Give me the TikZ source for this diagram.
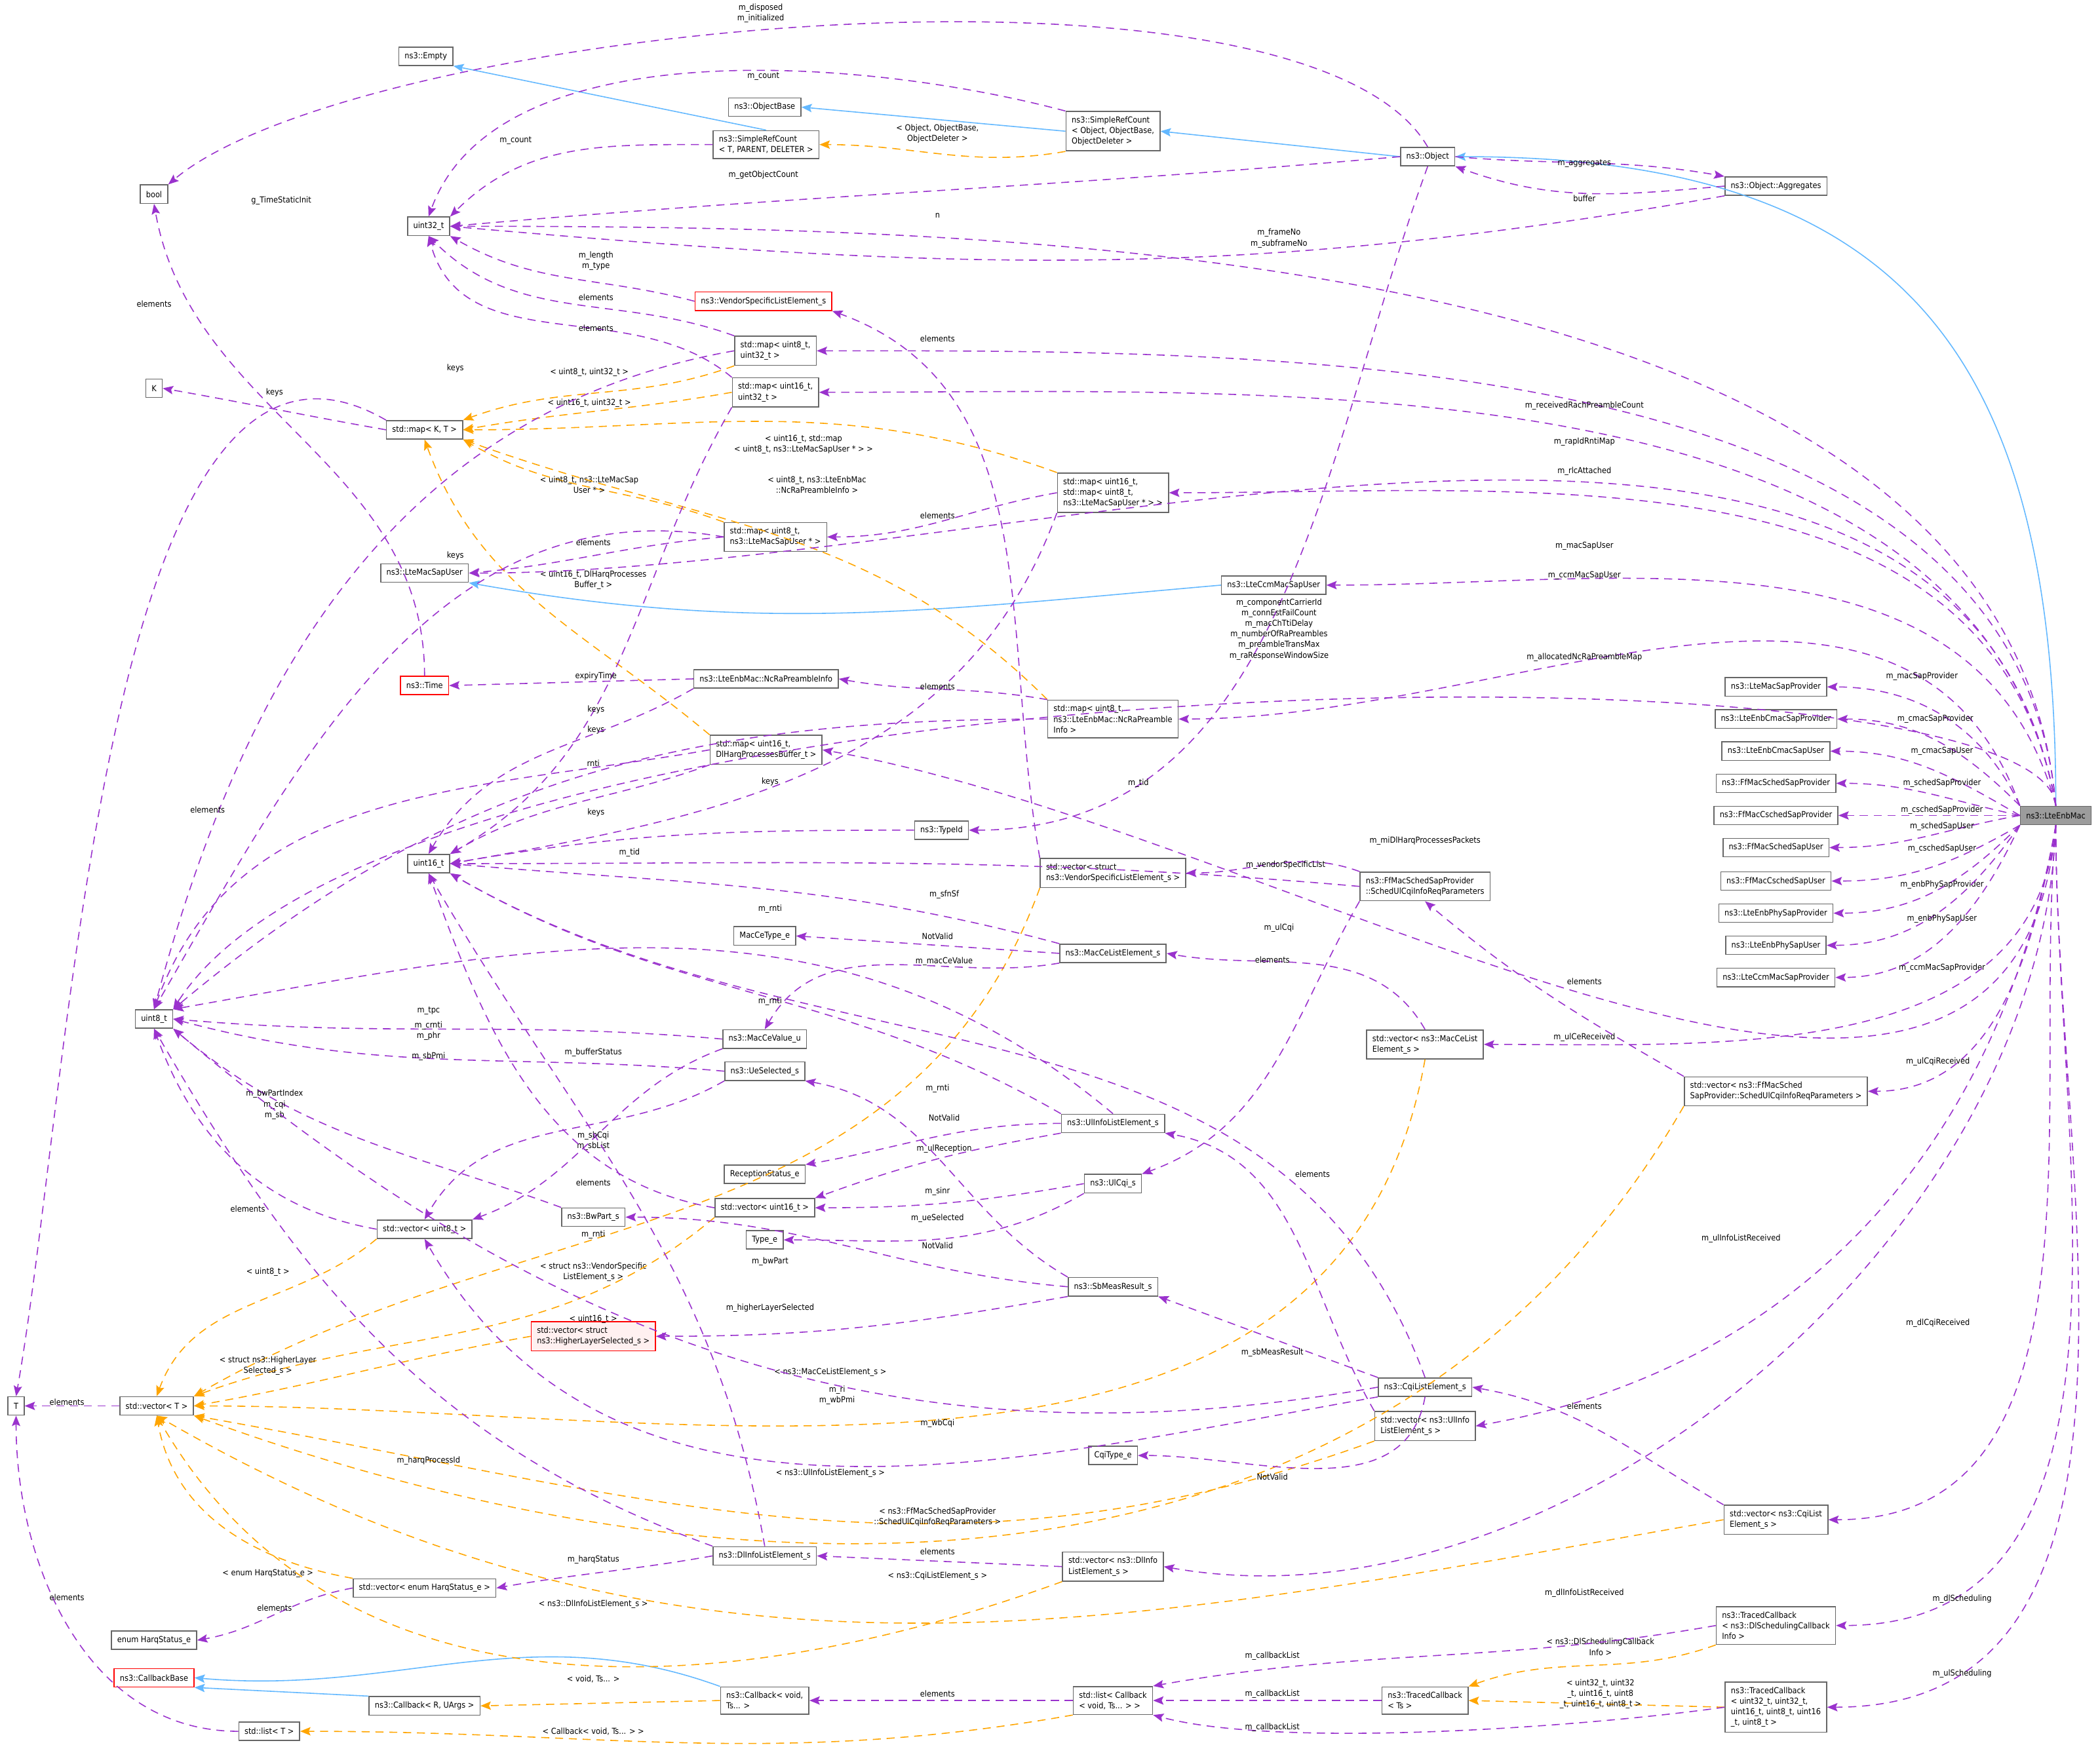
\documentclass[tikz,border=0pt]{standalone}
\usepackage{fontspec}
\setmainfont{DejaVu Sans Condensed}
\usepackage{tikz}
\usetikzlibrary{arrows.meta}
\definecolor{depc}{HTML}{9A32CD}
\definecolor{tplc}{HTML}{FFA500}
\definecolor{inhc}{HTML}{63B8FF}
\definecolor{boxc}{HTML}{666666}
\tikzstyle{cls} = [draw=boxc, fill=white, rectangle, line width=0.45pt,
    minimum height=8pt, inner xsep=2.5pt, inner ysep=2.2pt, align=left]
\tikzstyle{undoc} = [cls, draw=red]
\tikzstyle{lbl} = [inner sep=0.5pt, align=center, text=black]
\tikzstyle{dep} = [-{Stealth[length=4.5pt,width=3.6pt,inset=0.8pt]}, color=depc,
    line width=0.45pt, dash pattern=on 3.5pt off 2.5pt]
\tikzstyle{tpl} = [dep, color=tplc]
\tikzstyle{inh} = [-{Stealth[length=4.5pt,width=3.6pt,inset=0.8pt]}, color=inhc, line width=0.45pt]

\begin{document}
\begin{tikzpicture}[x=0.020434cm, y=-0.020434cm, font=\fontsize{3.6}{4.6}\selectfont]
    \useasboundingbox (0,0) rectangle (1568,1303);

    % top: object model
    \node [cls] (boolT) at (115,145) {bool};
    \node [cls] (empty) at (318,42) {ns3::Empty};
    \node [cls] (objbase) at (571,80) {ns3::ObjectBase};
    \node [cls] (srcObj) at (831,98) {ns3::SimpleRefCount\\< Object, ObjectBase,\\ ObjectDeleter >};
    \node [cls] (srcT) at (572,108) {ns3::SimpleRefCount\\< T, PARENT, DELETER >};
    \node [cls] (obj) at (1066,117) {ns3::Object};
    \node [cls] (aggr) at (1326,139) {ns3::Object::Aggregates};
    \node [cls] (u32) at (320,169) {uint32\_t};
    \node [undoc] (vsle) at (570,225) {ns3::VendorSpecificListElement\_s};
    \node [cls] (mapU8U32) at (579,262) {std::map< uint8\_t,\\ uint32\_t >};
    \node [cls] (mapU16U32) at (579,293) {std::map< uint16\_t,\\ uint32\_t >};
    \node [cls] (K) at (115,290) {K};
    \node [cls] (mapKT) at (317,321) {std::map< K, T >};
    \node [cls] (mapU16Map) at (831,368) {std::map< uint16\_t,\\ std::map< uint8\_t,\\ ns3::LteMacSapUser * > >};
    \node [cls] (mapU8Sap) at (579,401) {std::map< uint8\_t,\\ ns3::LteMacSapUser * >};
    \node [cls] (macSapUser) at (317,428) {ns3::LteMacSapUser};
    \node [cls] (ccmSapUser) at (951,437) {ns3::LteCcmMacSapUser};
    \node [undoc] (time) at (317,512) {ns3::Time};
    \node [cls] (ncra) at (572,507) {ns3::LteEnbMac::NcRaPreambleInfo};
    \node [cls] (mapNcra) at (831,537) {std::map< uint8\_t,\\ ns3::LteEnbMac::NcRaPreamble\\ Info >};
    \node [cls] (mapHarq) at (572,560) {std::map< uint16\_t,\\ DlHarqProcessesBuffer\_t >};
    \node [cls] (typeid) at (703,620) {ns3::TypeId};
    \node [cls] (u16) at (320,645) {uint16\_t};

    % middle: scheduler structures
    \node [cls] (vecVsle) at (831,652) {std::vector< struct\\ ns3::VendorSpecificListElement\_s >};
    \node [cls] (ulCqiReq) at (1064,662) {ns3::FfMacSchedSapProvider\\::SchedUlCqiInfoReqParameters};
    \node [cls] (maceType) at (571,699) {MacCeType\_e};
    \node [cls] (maceList) at (831,712) {ns3::MacCeListElement\_s};
    \node [cls] (u8) at (115,761) {uint8\_t};
    \node [cls] (maceVal) at (571,776) {ns3::MacCeValue\_u};
    \node [cls] (ueSel) at (571,800) {ns3::UeSelected\_s};
    \node [cls] (vecMace) at (1064,780) {std::vector< ns3::MacCeList\\ Element\_s >};
    \node [cls] (vecUlCqiReq) at (1326,815) {std::vector< ns3::FfMacSched\\ SapProvider::SchedUlCqiInfoReqParameters >};
    \node [cls] (ulInfo) at (831,839) {ns3::UlInfoListElement\_s};
    \node [cls] (rxStatus) at (571,877) {ReceptionStatus\_e};
    \node [cls] (ulCqi) at (831,884) {ns3::UlCqi\_s};
    \node [cls] (vecU16) at (571,902) {std::vector< uint16\_t >};
    \node [cls] (bwPart) at (443,909) {ns3::BwPart\_s};
    \node [cls] (vecU8) at (317,918) {std::vector< uint8\_t >};
    \node [cls] (typeE) at (571,926) {Type\_e};
    \node [cls] (sbMeas) at (831,961) {ns3::SbMeasResult\_s};
    \node [undoc, fill=red!6] (vecHls) at (443,998) {std::vector< struct\\ ns3::HigherLayerSelected\_s >};
    \node [cls] (T) at (12,1050) {T};
    \node [cls] (vecT) at (117,1050) {std::vector< T >};
    \node [cls] (cqiList) at (1064,1036) {ns3::CqiListElement\_s};
    \node [cls] (vecUlInfo) at (1064,1065) {std::vector< ns3::UlInfo\\ ListElement\_s >};
    \node [cls] (cqiType) at (831,1087) {CqiType\_e};
    \node [cls] (vecCqi) at (1326,1135) {std::vector< ns3::CqiList\\ Element\_s >};
    \node [cls] (dlInfo) at (571,1162) {ns3::DlInfoListElement\_s};
    \node [cls] (vecDlInfo) at (831,1170) {std::vector< ns3::DlInfo\\ ListElement\_s >};
    \node [cls] (vecHarq) at (317,1186) {std::vector< enum HarqStatus\_e >};
    \node [cls] (harqE) at (115,1225) {enum HarqStatus\_e};

    % bottom: callbacks
    \node [cls] (tcDl) at (1326,1214) {ns3::TracedCallback\\< ns3::DlSchedulingCallback\\ Info >};
    \node [undoc] (cbBase) at (115,1253) {ns3::CallbackBase};
    \node [cls] (cbRU) at (317,1274) {ns3::Callback< R, UArgs >};
    \node [cls] (cbVoid) at (571,1270) {ns3::Callback< void,\\ Ts... >};
    \node [cls] (listCb) at (831,1270) {std::list< Callback\\< void, Ts... > >};
    \node [cls] (tcTs) at (1064,1270) {ns3::TracedCallback\\< Ts >};
    \node [cls] (tcUl) at (1326,1275) {ns3::TracedCallback\\< uint32\_t, uint32\_t,\\ uint16\_t, uint8\_t, uint16\\\_t, uint8\_t >};
    \node [cls] (listT) at (201,1293) {std::list< T >};

    % the class itself and its SAP members
    \node [cls, fill=boxc!65] (mac) at (1535,609) {ns3::LteEnbMac};
    \node [cls] (sapProv) at (1326,513) {ns3::LteMacSapProvider};
    \node [cls] (cmacProv) at (1326,537) {ns3::LteEnbCmacSapProvider};
    \node [cls] (cmacUser) at (1326,561) {ns3::LteEnbCmacSapUser};
    \node [cls] (schedProv) at (1326,585) {ns3::FfMacSchedSapProvider};
    \node [cls] (cschedProv) at (1326,609) {ns3::FfMacCschedSapProvider};
    \node [cls] (schedUser) at (1326,633) {ns3::FfMacSchedSapUser};
    \node [cls] (cschedUser) at (1326,658) {ns3::FfMacCschedSapUser};
    \node [cls] (phyProv) at (1326,682) {ns3::LteEnbPhySapProvider};
    \node [cls] (phyUser) at (1326,706) {ns3::LteEnbPhySapUser};
    \node [cls] (ccmProv) at (1326,730) {ns3::LteCcmMacSapProvider};

    % inheritance
    \draw [inh] (srcT.north) -- (empty.south east);
    \draw [inh] (srcObj.west) -- (objbase.east);
    \draw [inh] (obj.west) -- (srcObj.east);
    \draw [inh] (mac.north) to[out=90,in=0,looseness=1.3] (obj.east);
    \draw [inh] (ccmSapUser.west) to[out=185,in=-10] (macSapUser.south east);
    \draw [inh] (cbVoid.north west) to[out=160,in=-5] (cbBase.east);
    \draw [inh] (cbRU.north west) -- (cbBase.south east);

    % template instances
    \draw [tpl] (srcObj.south west) to[out=190,in=0] (srcT.east) node[lbl,at={(700,100)}] {< Object, ObjectBase,\\ObjectDeleter >};
    \draw [tpl] (mapU8U32.south west) to[out=200,in=20] (mapKT.north east) node[lbl,at={(440,278)}] {< uint8\_t, uint32\_t >};
    \draw [tpl] (mapU16U32.west) to[out=190,in=10] (mapKT.east) node[lbl,at={(440,301)}] {< uint16\_t, uint32\_t >};
    \draw [tpl] (mapU16Map.north west) to[out=160,in=0] (mapKT.east) node[lbl,at={(600,332)}] {< uint16\_t, std::map\\< uint8\_t, ns3::LteMacSapUser * > >};
    \draw [tpl] (mapU8Sap.north west) to[out=160,in=-30] (mapKT.south east) node[lbl,at={(440,362)}] {< uint8\_t, ns3::LteMacSap\\User * >};
    \draw [tpl] (mapNcra.north west) to[out=135,in=-20] (mapKT.south east) node[lbl,at={(610,362)}] {< uint8\_t, ns3::LteEnbMac\\::NcRaPreambleInfo >};
    \draw [tpl] (mapHarq.north west) to[out=140,in=-70] (mapKT.south) node[lbl,at={(443,433)}] {< uint16\_t, DlHarqProcesses\\Buffer\_t >};
    \draw [tpl] (vecVsle.south west) to[out=-110,in=30] (vecT.north east) node[lbl,at={(443,950)}] {< struct ns3::VendorSpecific\\ListElement\_s >};
    \draw [tpl] (vecU8.south west) to[out=-140,in=70] (vecT.north) node[lbl,at={(200,950)}] {< uint8\_t >};
    \draw [tpl] (vecU16.south west) to[out=-140,in=20] (vecT.north east) node[lbl,at={(443,985)}] {< uint16\_t >};
    \draw [tpl] (vecHls.west) to[out=190,in=10] (vecT.east) node[lbl,at={(200,1020)}] {< struct ns3::HigherLayer\\Selected\_s >};
    \draw [tpl] (vecMace.south) to[out=-100,in=0] (vecT.east) node[lbl,at={(620,1025)}] {< ns3::MacCeListElement\_s >};
    \draw [tpl] (vecUlInfo.south west) to[out=200,in=-10] (vecT.south east) node[lbl,at={(620,1100)}] {< ns3::UlInfoListElement\_s >};
    \draw [tpl] (vecUlCqiReq.south west) to[out=-120,in=-20] (vecT.south east) node[lbl,at={(700,1133)}] {< ns3::FfMacSchedSapProvider\\::SchedUlCqiInfoReqParameters >};
    \draw [tpl] (vecCqi.west) to[out=190,in=-30] (vecT.south) node[lbl,at={(700,1177)}] {< ns3::CqiListElement\_s >};
    \draw [tpl] (vecDlInfo.south west) to[out=200,in=-60] (vecT.south) node[lbl,at={(443,1198)}] {< ns3::DlInfoListElement\_s >};
    \draw [tpl] (vecHarq.north west) to[out=170,in=-80] (vecT.south) node[lbl,at={(200,1175)}] {< enum HarqStatus\_e >};
    \draw [tpl] (cbVoid.west) -- (cbRU.east) node[lbl,at={(443,1254)}] {< void, Ts... >};
    \draw [tpl] (listCb.south west) to[out=190,in=0] (listT.east) node[lbl,at={(443,1293)}] {< Callback< void, Ts... > >};
    \draw [tpl] (tcDl.south west) to[out=200,in=20] (tcTs.north east) node[lbl,at={(1195,1230)}] {< ns3::DlSchedulingCallback\\Info >};
    \draw [tpl] (tcUl.west) -- (tcTs.east) node[lbl,at={(1195,1265)}] {< uint32\_t, uint32\\\_t, uint16\_t, uint8\\\_t, uint16\_t, uint8\_t >};

    % members: object model
    \draw [dep] (obj.north) to[out=120,in=40,looseness=0.5] (boolT.north east) node[lbl,at={(568,10)}] {m\_disposed\\m\_initialized};
    \draw [dep] (srcObj.north west) to[out=165,in=70,looseness=0.8] (u32.north) node[lbl,at={(570,57)}] {m\_count};
    \draw [dep] (srcT.west) to[out=180,in=45] (u32.north east) node[lbl,at={(385,105)}] {m\_count};
    \draw [dep] (obj.west) to[out=185,in=5] (u32.east) node[lbl,at={(570,131)}] {m\_getObjectCount};
    \draw [dep] (obj.east) to[out=-5,in=170] (aggr.north west) node[lbl,at={(1183,122)}] {m\_aggregates};
    \draw [dep] (aggr.west) to[out=185,in=-20] (obj.south east) node[lbl,at={(1183,148)}] {buffer};
    \draw [dep] (aggr.south west) to[out=190,in=-5] (u32.east) node[lbl,at={(700,161)}] {n};
    \draw [dep] (obj.south) to[out=-110,in=0] (typeid.east) node[lbl,at={(850,585)}] {m\_tid};
    \draw [dep] (vsle.west) to[out=165,in=-30] (u32.south east) node[lbl,at={(445,195)}] {m\_length\\m\_type};
    \draw [dep] (mapU8U32.north west) to[out=160,in=-45] (u32.south) node[lbl,at={(445,222)}] {elements};
    \draw [dep] (mapU16U32.north west) to[out=140,in=-75] (u32.south) node[lbl,at={(445,245)}] {elements};
    \draw [dep] (mapU8U32.west) to[out=190,in=75] (u8.north) node[lbl,at={(340,275)}] {keys};
    \draw [dep] (mapKT.west) to[out=170,in=-10] (K.east) node[lbl,at={(205,293)}] {keys};
    \draw [dep] (mapKT.north west) to[out=150,in=80,looseness=0.8] (T.north) node[lbl,at={(115,227)}] {elements};
    \draw [dep] (mapU16Map.west) to[out=190,in=0] (mapU8Sap.east) node[lbl,at={(700,385)}] {elements};
    \draw [dep] (mapU8Sap.west) to[out=185,in=5] (macSapUser.east) node[lbl,at={(443,405)}] {elements};
    \draw [dep] (mapU8Sap.west) to[out=170,in=60] (u8.north) node[lbl,at={(340,415)}] {keys};
    \draw [dep] (mapU16U32.south west) to[out=-120,in=30] (u16.north east) node[lbl,at={(445,545)}] {keys};
    \draw [dep] (mapU16Map.south west) to[out=-110,in=10] (u16.east) node[lbl,at={(575,584)}] {keys};
    \draw [dep] (mapHarq.south west) to[out=200,in=30] (u16.north east) node[lbl,at={(445,607)}] {keys};
    \draw [dep] (ncra.south west) to[out=-150,in=60] (u16.north) node[lbl,at={(443,570)}] {rnti};
    \draw [dep] (time.north) to[out=90,in=-80] (boolT.south) node[lbl,at={(210,150)}] {g\_TimeStaticInit};
    \draw [dep] (ncra.west) -- (time.east) node[lbl,at={(445,505)}] {expiryTime};
    \draw [dep] (mapNcra.north west) to[out=170,in=-10] (ncra.east) node[lbl,at={(700,513)}] {elements};
    \draw [dep] (mapNcra.west) to[out=180,in=40] (u8.north east) node[lbl,at={(445,530)}] {keys};
    \draw [dep] (mapHarq.west) to[out=190,in=70] (u8.north) node[lbl,at={(155,605)}] {elements};
    \draw [dep] (typeid.west) to[out=180,in=10] (u16.east) node[lbl,at={(470,637)}] {m\_tid};

    % members: scheduler structures
    \draw [dep] (vecVsle.north west) to[out=100,in=-20] (vsle.south east) node[lbl,at={(700,253)}] {elements};
    \draw [dep] (ulCqiReq.north west) to[out=160,in=0] (vecVsle.east) node[lbl,at={(960,646)}] {m\_vendorSpecificList};
    \draw [dep] (ulCqiReq.west) to[out=175,in=0] (u16.east) node[lbl,at={(705,668)}] {m\_sfnSf};
    \draw [dep] (ulCqiReq.south west) to[out=-120,in=20] (ulCqi.north east) node[lbl,at={(955,693)}] {m\_ulCqi};
    \draw [dep] (maceList.north west) to[out=165,in=-5] (u16.east) node[lbl,at={(575,679)}] {m\_rnti};
    \draw [dep] (maceList.west) -- (maceType.east) node[lbl,at={(700,699)}] {NotValid};
    \draw [dep] (maceList.south west) to[out=190,in=60] (maceVal.north) node[lbl,at={(705,718)}] {m\_macCeValue};
    \draw [dep] (vecMace.north) to[out=120,in=-10] (maceList.east) node[lbl,at={(950,717)}] {elements};
    \draw [dep] (vecUlCqiReq.north west) to[out=150,in=-40] (ulCqiReq.south) node[lbl,at={(1183,733)}] {elements};
    \draw [dep] (maceVal.west) to[out=175,in=-5] (u8.east) node[lbl,at={(320,770)}] {m\_crnti\\m\_phr};
    \draw [dep] (maceVal.south west) to[out=200,in=20] (vecU8.north east) node[lbl,at={(443,786)}] {m\_bufferStatus};
    \draw [dep] (ulInfo.north west) to[out=150,in=-30] (u16.south east) node[lbl,at={(575,748)}] {m\_rnti};
    \draw [dep] (ulInfo.north) to[out=140,in=10] (u8.north east) node[lbl,at={(320,755)}] {m\_tpc};
    \draw [dep] (ulInfo.west) to[out=180,in=10] (rxStatus.north east) node[lbl,at={(705,835)}] {NotValid};
    \draw [dep] (ulInfo.south west) to[out=190,in=20] (vecU16.north east) node[lbl,at={(705,858)}] {m\_ulReception};
    \draw [dep] (ueSel.west) to[out=175,in=-15] (u8.east) node[lbl,at={(320,789)}] {m\_sbPmi};
    \draw [dep] (ueSel.south west) to[out=210,in=60] (vecU8.north) node[lbl,at={(443,852)}] {m\_sbCqi\\m\_sbList};
    \draw [dep] (ulCqi.west) to[out=190,in=0] (vecU16.east) node[lbl,at={(700,890)}] {m\_sinr};
    \draw [dep] (ulCqi.south west) to[out=-150,in=0] (typeE.east) node[lbl,at={(700,930)}] {NotValid};
    \draw [dep] (vecU16.west) to[out=170,in=-70] (u16.south) node[lbl,at={(443,883)}] {elements};
    \draw [dep] (vecU8.west) to[out=170,in=-70] (u8.south) node[lbl,at={(185,903)}] {elements};
    \draw [dep] (sbMeas.north west) to[out=150,in=-10] (ueSel.south east) node[lbl,at={(700,910)}] {m\_ueSelected};
    \draw [dep] (sbMeas.west) to[out=175,in=0] (bwPart.east) node[lbl,at={(575,942)}] {m\_bwPart};
    \draw [dep] (sbMeas.south west) to[out=190,in=0] (vecHls.east) node[lbl,at={(575,977)}] {m\_higherLayerSelected};
    \draw [dep] (bwPart.north west) to[out=160,in=-40] (u8.south east) node[lbl,at={(205,825)}] {m\_bwPartIndex\\m\_cqi\\m\_sb};
    \draw [dep] (vecT.west) -- (T.east) node[lbl,at={(50,1047)}] {elements};
    \draw [dep] (cqiList.north west) to[out=160,in=-20] (sbMeas.south east) node[lbl,at={(950,1010)}] {m\_sbMeasResult};
    \draw [dep] (cqiList.north) to[out=110,in=-30] (u16.south east) node[lbl,at={(700,813)}] {m\_rnti};
    \draw [dep] (cqiList.west) to[out=190,in=-40] (u8.south east) node[lbl,at={(625,1042)}] {m\_ri\\m\_wbPmi};
    \draw [dep] (cqiList.south west) to[out=190,in=-60] (vecU8.south) node[lbl,at={(700,1063)}] {m\_wbCqi};
    \draw [dep] (cqiList.south) to[out=-100,in=0] (cqiType.east) node[lbl,at={(950,1103)}] {NotValid};
    \draw [dep] (vecUlInfo.north west) to[out=120,in=-10] (ulInfo.south east) node[lbl,at={(980,877)}] {elements};
    \draw [dep] (vecCqi.north west) to[out=150,in=-10] (cqiList.east) node[lbl,at={(1183,1050)}] {elements};
    \draw [dep] (dlInfo.north west) to[out=160,in=-60] (u8.south) node[lbl,at={(320,1091)}] {m\_harqProcessId};
    \draw [dep] (dlInfo.west) to[out=190,in=10] (vecHarq.east) node[lbl,at={(443,1165)}] {m\_harqStatus};
    \draw [dep] (dlInfo.north) to[out=100,in=-60] (u16.south) node[lbl,at={(443,922)}] {m\_rnti};
    \draw [dep] (vecDlInfo.west) -- (dlInfo.east) node[lbl,at={(700,1159)}] {elements};
    \draw [dep] (vecHarq.west) to[out=190,in=10] (harqE.east) node[lbl,at={(205,1201)}] {elements};

    % members: callbacks
    \draw [dep] (listCb.west) -- (cbVoid.east) node[lbl,at={(700,1265)}] {elements};
    \draw [dep] (tcTs.west) -- (listCb.east) node[lbl,at={(950,1265)}] {m\_callbackList};
    \draw [dep] (tcDl.west) to[out=190,in=10] (listCb.north east) node[lbl,at={(950,1237)}] {m\_callbackList};
    \draw [dep] (tcUl.west) to[out=188,in=-15,looseness=0.6] (listCb.south east) node[lbl,at={(950,1290)}] {m\_callbackList};
    \draw [dep] (listT.west) to[out=180,in=-90] (T.south) node[lbl,at={(50,1193)}] {elements};

    % members of ns3::LteEnbMac
    \draw [dep] (mac.north) to[out=95,in=0,looseness=0.85] (u32.east) node[lbl,at={(955,178)}] {m\_frameNo\\m\_subframeNo};
    \draw [dep] (mac.north) to[out=95,in=0,looseness=0.9] (mapU8U32.east) node[lbl,at={(1183,303)}] {m\_receivedRachPreambleCount};
    \draw [dep] (mac.north) to[out=100,in=0,looseness=0.9] (mapU16U32.east) node[lbl,at={(1183,330)}] {m\_rapIdRntiMap};
    \draw [dep] (mac.north) to[out=100,in=0] (mapU16Map.east) node[lbl,at={(1183,352)}] {m\_rlcAttached};
    \draw [dep] (mac.north) to[out=100,in=0,looseness=0.9] (macSapUser.east) node[lbl,at={(1183,408)}] {m\_macSapUser};
    \draw [dep] (mac.north) to[out=105,in=0] (ccmSapUser.east) node[lbl,at={(1183,430)}] {m\_ccmMacSapUser};
    \draw [dep] (mac.north) .. controls (1525,470) and (300,485) .. (u8.north east) node[lbl,at={(955,470)}] {m\_componentCarrierId\\m\_connEstFailCount\\m\_macChTtiDelay\\m\_numberOfRaPreambles\\m\_preambleTransMax\\m\_raResponseWindowSize};
    \draw [dep] (mac.north west) to[out=110,in=0] (mapNcra.east) node[lbl,at={(1183,491)}] {m\_allocatedNcRaPreambleMap};
    \draw [dep] (mac.south) to[out=-95,in=-10] (mapHarq.east) node[lbl,at={(1064,628)}] {m\_miDlHarqProcessesPackets};
    \draw [dep] (mac.north west) to[out=115,in=0] (sapProv.east) node[lbl,at={(1435,505)}] {m\_macSapProvider};
    \draw [dep] (mac.north west) to[out=135,in=0] (cmacProv.east) node[lbl,at={(1445,537)}] {m\_cmacSapProvider};
    \draw [dep] (mac.west) to[out=150,in=0] (cmacUser.east) node[lbl,at={(1450,561)}] {m\_cmacSapUser};
    \draw [dep] (mac.west) to[out=168,in=0] (schedProv.east) node[lbl,at={(1450,585)}] {m\_schedSapProvider};
    \draw [dep] (mac.west) -- (cschedProv.east) node[lbl,at={(1450,605)}] {m\_cschedSapProvider};
    \draw [dep] (mac.west) to[out=190,in=0] (schedUser.east) node[lbl,at={(1450,617)}] {m\_schedSapUser};
    \draw [dep] (mac.south west) to[out=210,in=0] (cschedUser.east) node[lbl,at={(1450,634)}] {m\_cschedSapUser};
    \draw [dep] (mac.south west) to[out=225,in=0] (phyProv.east) node[lbl,at={(1450,661)}] {m\_enbPhySapProvider};
    \draw [dep] (mac.south west) to[out=235,in=0] (phyUser.east) node[lbl,at={(1450,686)}] {m\_enbPhySapUser};
    \draw [dep] (mac.south west) to[out=245,in=0] (ccmProv.east) node[lbl,at={(1450,723)}] {m\_ccmMacSapProvider};
    \draw [dep] (mac.south) to[out=-95,in=0] (vecMace.east) node[lbl,at={(1183,775)}] {m\_ulCeReceived};
    \draw [dep] (mac.south) to[out=-100,in=0] (vecUlCqiReq.east) node[lbl,at={(1447,793)}] {m\_ulCqiReceived};
    \draw [dep] (mac.south) to[out=-100,in=10] (vecUlInfo.east) node[lbl,at={(1300,925)}] {m\_ulInfoListReceived};
    \draw [dep] (mac.south) to[out=-95,in=0] (vecCqi.east) node[lbl,at={(1447,988)}] {m\_dlCqiReceived};
    \draw [dep] (mac.south) to[out=-92,in=-10,looseness=0.9] (vecDlInfo.east) node[lbl,at={(1183,1190)}] {m\_dlInfoListReceived};
    \draw [dep] (mac.south) to[out=-90,in=0] (tcDl.east) node[lbl,at={(1465,1194)}] {m\_dlScheduling};
    \draw [dep] (mac.south) to[out=-90,in=0] (tcUl.east) node[lbl,at={(1465,1250)}] {m\_ulScheduling};
\end{tikzpicture}
\end{document}
